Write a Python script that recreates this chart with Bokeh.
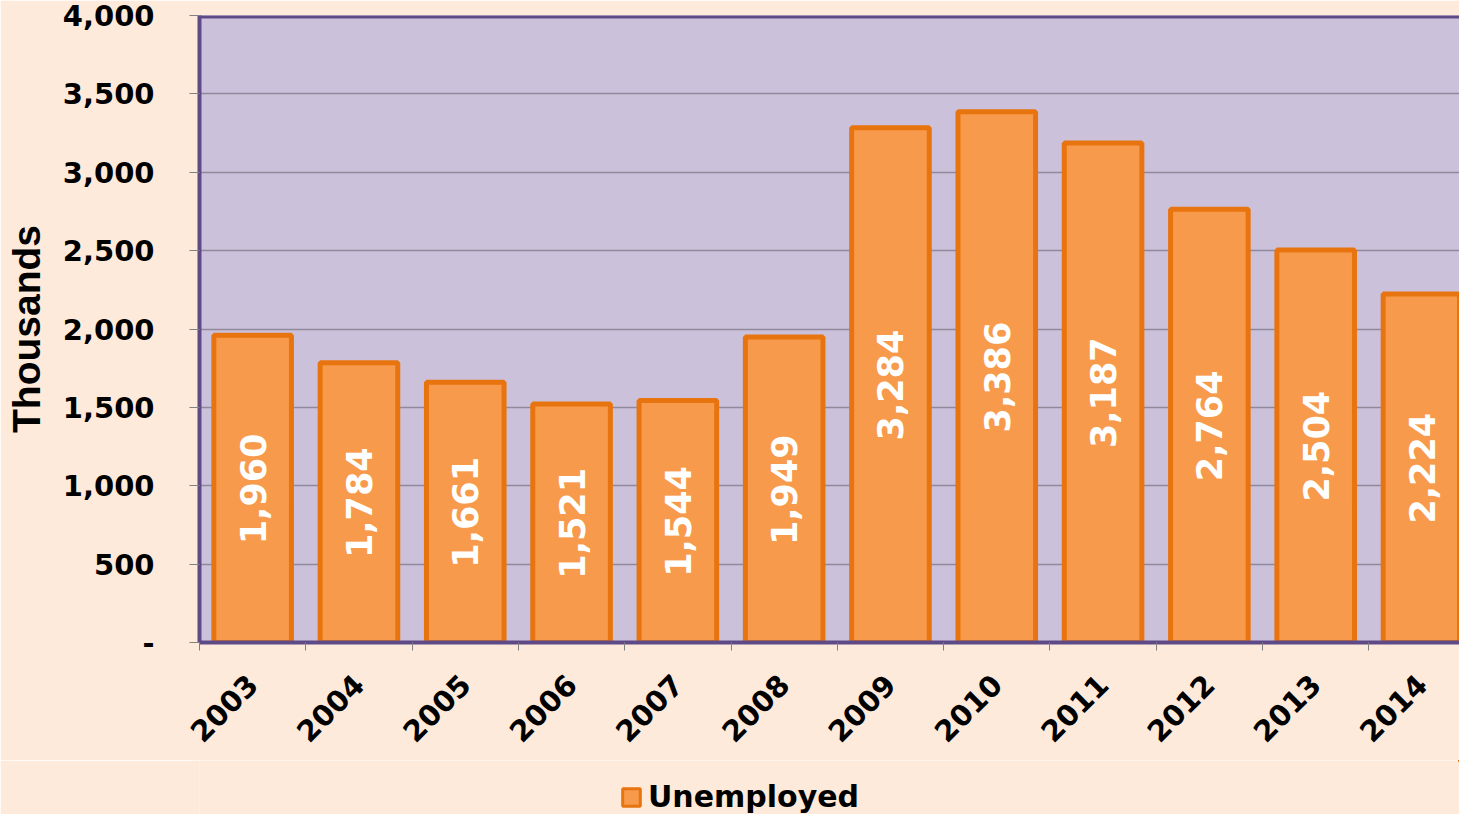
import math
from bokeh.plotting import figure
from bokeh.layouts import column
from bokeh.models import (Range1d, FixedTicker, NumeralTickFormatter, Span,
                          Legend, LegendItem, ColumnDataSource)
from bokeh.core.properties import value
from bokeh.embed import file_html
from bokeh.resources import INLINE

years = ["2003", "2004", "2005", "2006", "2007", "2008",
         "2009", "2010", "2011", "2012", "2013", "2014"]
unemployed = [1960, 1784, 1661, 1521, 1544, 1949,
              3284, 3386, 3187, 2764, 2504, 2224]
y_ticks = [0, 500, 1000, 1500, 2000, 2500, 3000, 3500, 4000]
series_name = "Unemployed"

PAGE_BG = "#FDEADA"
PLOT_BG = "#CCC1DB"
BAR_FILL = "#F79A4B"
BAR_LINE = "#E8740F"
FRAME = "#5E4A86"
FONT = "DejaVu Sans"

xs = [i + 0.5 for i in range(len(years))]
src = ColumnDataSource(dict(
    x=xs, top=unemployed, mid=[v / 2 for v in unemployed],
    lab=[f"{v:,}" for v in unemployed]))

p = figure(width=1459, height=760, output_backend="svg", toolbar_location=None,
           x_range=Range1d(0, 11.853), y_range=Range1d(0, 4000),
           min_border_left=199, min_border_top=15, min_border_right=0,
           min_border_bottom=118, frame_height=627)
p.background_fill_color = PLOT_BG
p.border_fill_color = PAGE_BG
p.outline_line_color = None

bar_style = dict(fill_color=BAR_FILL, line_color=BAR_LINE, line_width=5)
p.vbar(x="x", top="top", bottom=0, width=0.73, source=src, **bar_style)

p.text(x="x", y="mid", text="lab", source=src, angle=math.pi / 2,
       text_align="center", text_baseline="middle", text_color="white",
       text_font=value(FONT), text_font_style="bold", text_font_size="35px")

# y axis
p.yaxis.ticker = FixedTicker(ticks=y_ticks)
p.yaxis.formatter = NumeralTickFormatter(format="0,0")
p.yaxis.major_label_overrides = {0: "-"}
p.yaxis.major_label_text_font = FONT
p.yaxis.major_label_text_font_style = "bold"
p.yaxis.major_label_text_font_size = "29px"
p.yaxis.major_label_text_color = "black"
p.yaxis.major_label_standoff = 35
p.yaxis.major_tick_out = 10
p.yaxis.major_tick_in = 0
p.yaxis.major_tick_line_color = "#808080"
p.yaxis.minor_tick_line_color = None
p.yaxis.axis_line_color = FRAME
p.yaxis.axis_line_width = 4
p.yaxis.axis_label = "Thousands"
p.yaxis.axis_label_text_font = "Liberation Sans"
p.yaxis.axis_label_text_font_style = "bold"
p.yaxis.axis_label_text_font_size = "39px"
p.yaxis.axis_label_text_color = "black"
p.yaxis.axis_label_standoff = 12

# x axis
p.xaxis.ticker = FixedTicker(ticks=xs, minor_ticks=list(range(len(years) + 1)))
p.xaxis.major_label_overrides = {x: y for x, y in zip(xs, years)}
p.xaxis.major_label_orientation = math.pi / 4
p.xaxis.major_label_text_font = FONT
p.xaxis.major_label_text_font_style = "bold"
p.xaxis.major_label_text_font_size = "29px"
p.xaxis.major_label_text_color = "black"
p.xaxis.major_label_standoff = 29
p.xaxis.major_tick_out = 0
p.xaxis.major_tick_in = 0
p.xaxis.minor_tick_out = 8
p.xaxis.minor_tick_in = 0
p.xaxis.minor_tick_line_color = "#808080"
p.xaxis.axis_line_color = FRAME
p.xaxis.axis_line_width = 4

p.xgrid.grid_line_color = None
p.ygrid.ticker = FixedTicker(ticks=y_ticks[1:-1])
p.ygrid.grid_line_color = "#8E8A9C"
p.ygrid.grid_line_width = 1.5

p.add_layout(Span(location=4000, dimension="width", line_color=FRAME, line_width=6))

# legend strip below the chart
lf = figure(width=1459, height=54, output_backend="svg", toolbar_location=None,
            x_range=Range1d(-100, -99), y_range=Range1d(-100, -99),
            x_axis_location=None, y_axis_location=None,
            min_border_left=0, min_border_right=0, min_border_top=0,
            min_border_bottom=0)
lf.background_fill_color = PAGE_BG
lf.border_fill_color = PAGE_BG
lf.outline_line_color = None
lf.grid.visible = False
lr = lf.vbar(x="x", top="top", bottom=0, width=0.73, source=src,
             fill_color=BAR_FILL, line_color=BAR_LINE, line_width=3)

legend = Legend(items=[LegendItem(label=series_name, renderers=[lr])],
                location=(421, 0), orientation="horizontal",
                padding=0, margin=0, spacing=0,
                border_line_color=None, background_fill_alpha=0,
                glyph_width=22, glyph_height=22, label_standoff=6,
                label_height=30,
                label_text_font=FONT, label_text_font_style="bold",
                label_text_font_size="30px", label_text_color="black")
lf.add_layout(legend, "center")

layout = column(p, lf, spacing=0)
open("out.html", "w").write(file_html(layout, INLINE))
